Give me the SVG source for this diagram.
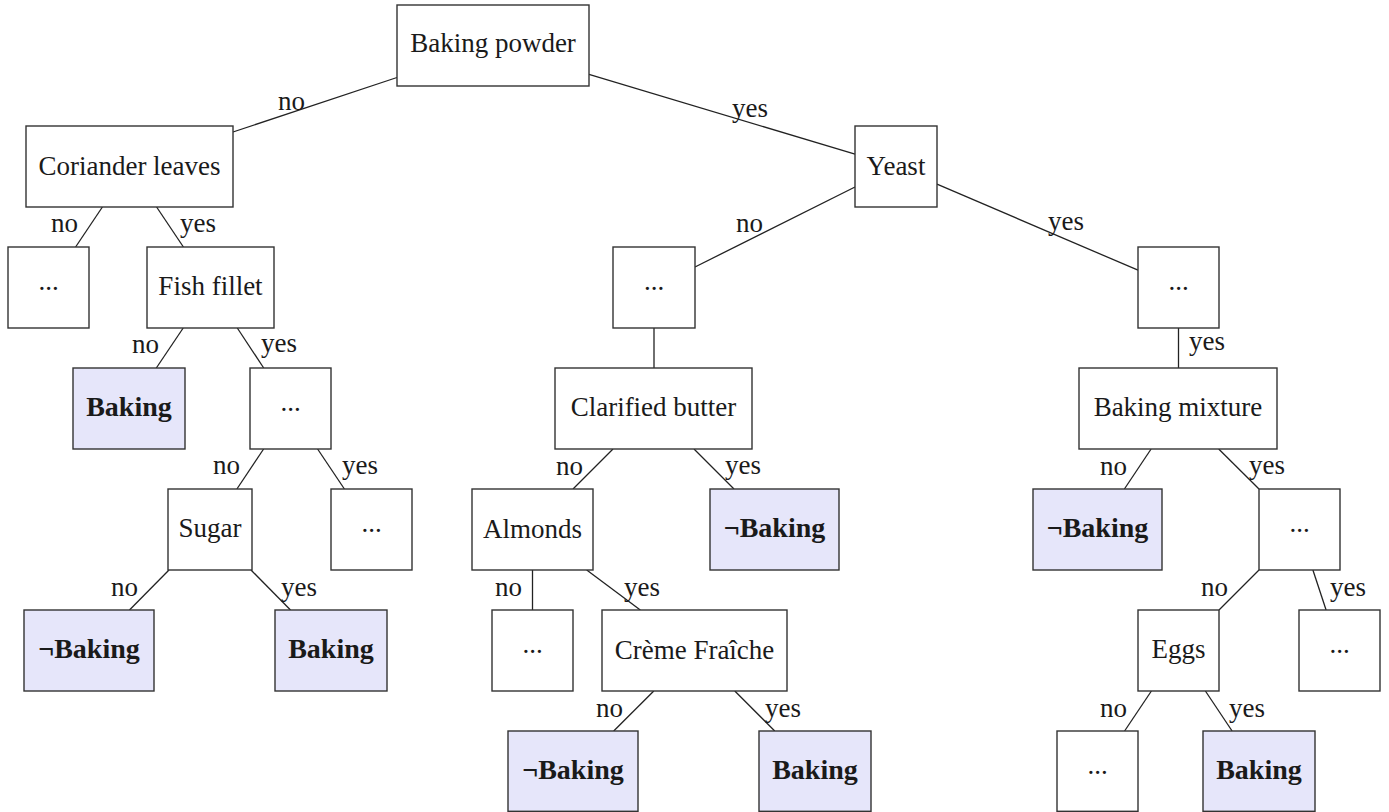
<svg xmlns="http://www.w3.org/2000/svg" width="1389" height="812" viewBox="0 0 1389 812">
<style>
  .box{fill:#ffffff;stroke:#333333;stroke-width:1.4}
  .leaf{fill:#e6e6fa;stroke:#333333;stroke-width:1.4}
  .t{font-family:"Liberation Serif","Times New Roman",serif;font-size:27px;fill:#1a1a1a;text-anchor:middle}
  .b{font-family:"Liberation Serif","Times New Roman",serif;font-size:28px;font-weight:bold;fill:#1a1a1a;text-anchor:middle}
  .no{font-family:"Liberation Serif","Times New Roman",serif;font-size:27px;fill:#1a1a1a;text-anchor:end}
  .yes{font-family:"Liberation Serif","Times New Roman",serif;font-size:27px;fill:#1a1a1a;text-anchor:start}
  .e{stroke:#222222;stroke-width:1.3;fill:none}
</style>
<rect width="1389" height="812" fill="#ffffff"/>
<g id="connectors">
  <line class="e" x1="397" y1="77.5" x2="233" y2="132"/>
  <line class="e" x1="589" y1="74.3" x2="855" y2="154.2"/>
  <line class="e" x1="102.4" y1="207" x2="75.6" y2="247"/>
  <line class="e" x1="156.6" y1="207" x2="183.4" y2="247"/>
  <line class="e" x1="855" y1="187" x2="695" y2="267"/>
  <line class="e" x1="937" y1="184.1" x2="1138" y2="270.2"/>
  <line class="e" x1="183.2" y1="328" x2="156.3" y2="368"/>
  <line class="e" x1="237.3" y1="328" x2="263.7" y2="368"/>
  <line class="e" x1="654" y1="328" x2="654" y2="368"/>
  <line class="e" x1="1178.5" y1="328" x2="1178.5" y2="368"/>
  <line class="e" x1="263.6" y1="449" x2="236.9" y2="489"/>
  <line class="e" x1="317.6" y1="449" x2="344.4" y2="489"/>
  <line class="e" x1="613" y1="449" x2="573" y2="489"/>
  <line class="e" x1="694" y1="449" x2="734" y2="489"/>
  <line class="e" x1="1151.1" y1="449" x2="1124.4" y2="489"/>
  <line class="e" x1="1218.7" y1="449" x2="1259" y2="489"/>
  <line class="e" x1="169" y1="570" x2="129.5" y2="610"/>
  <line class="e" x1="251" y1="570" x2="290.5" y2="610"/>
  <line class="e" x1="532.5" y1="570" x2="532.5" y2="610"/>
  <line class="e" x1="586.7" y1="570" x2="640.3" y2="610"/>
  <line class="e" x1="1259" y1="570" x2="1219" y2="610"/>
  <line class="e" x1="1312.9" y1="570" x2="1326.1" y2="610"/>
  <line class="e" x1="653.8" y1="691" x2="613.7" y2="731"/>
  <line class="e" x1="734.8" y1="691" x2="774.7" y2="731"/>
  <line class="e" x1="1151.4" y1="691" x2="1124.6" y2="731"/>
  <line class="e" x1="1205.4" y1="691" x2="1232.1" y2="731"/>
  <text class="no" x="305" y="110">no</text>
  <text class="yes" x="732" y="117">yes</text>
  <text class="no" x="78" y="232">no</text>
  <text class="yes" x="180" y="232">yes</text>
  <text class="no" x="763" y="232">no</text>
  <text class="yes" x="1048" y="230">yes</text>
  <text class="no" x="159" y="353">no</text>
  <text class="yes" x="261" y="352">yes</text>
  <text class="yes" x="1189" y="350">yes</text>
  <text class="no" x="240" y="474">no</text>
  <text class="yes" x="342" y="474">yes</text>
  <text class="no" x="583" y="475">no</text>
  <text class="yes" x="725" y="474">yes</text>
  <text class="no" x="1127" y="475">no</text>
  <text class="yes" x="1249" y="474">yes</text>
  <text class="no" x="138" y="596">no</text>
  <text class="yes" x="281" y="596">yes</text>
  <text class="no" x="522" y="596">no</text>
  <text class="yes" x="624" y="596">yes</text>
  <text class="no" x="1228" y="596">no</text>
  <text class="yes" x="1330" y="596">yes</text>
  <text class="no" x="623" y="717">no</text>
  <text class="yes" x="765" y="717">yes</text>
  <text class="no" x="1127" y="717">no</text>
  <text class="yes" x="1229" y="717">yes</text>
</g>
<g id="n1"><rect class="box" x="397" y="5" width="192" height="81"/><text class="t" x="493" y="52">Baking powder</text></g>
<g id="n2"><rect class="box" x="26" y="126" width="207" height="81"/><text class="t" x="129.5" y="175">Coriander leaves</text></g>
<g id="n3"><rect class="box" x="855" y="126" width="82" height="81"/><text class="t" x="896" y="175">Yeast</text></g>
<g id="n4"><rect class="box" x="8" y="247" width="81" height="81"/><text class="t" x="48.5" y="290">...</text></g>
<g id="n5"><rect class="box" x="147" y="247" width="127" height="81"/><text class="t" x="210.5" y="295">Fish fillet</text></g>
<g id="n6"><rect class="box" x="613" y="247" width="82" height="81"/><text class="t" x="654" y="290">...</text></g>
<g id="n7"><rect class="box" x="1138" y="247" width="81" height="81"/><text class="t" x="1178.5" y="290">...</text></g>
<g id="n8"><rect class="leaf" x="73" y="368" width="112" height="81"/><text class="b" x="129" y="416">Baking</text></g>
<g id="n9"><rect class="box" x="250" y="368" width="81" height="81"/><text class="t" x="290.5" y="411">...</text></g>
<g id="n10"><rect class="box" x="555" y="368" width="197" height="81"/><text class="t" x="653.5" y="416">Clarified butter</text></g>
<g id="n11"><rect class="box" x="1079" y="368" width="198" height="81"/><text class="t" x="1178" y="416">Baking mixture</text></g>
<g id="n12"><rect class="box" x="168" y="489" width="84" height="81"/><text class="t" x="210" y="537">Sugar</text></g>
<g id="n13"><rect class="box" x="331" y="489" width="81" height="81"/><text class="t" x="371.5" y="532">...</text></g>
<g id="n14"><rect class="box" x="472" y="489" width="121" height="81"/><text class="t" x="532.5" y="538">Almonds</text></g>
<g id="n15"><rect class="leaf" x="710" y="489" width="129" height="81"/><text class="b" x="774.5" y="537">¬Baking</text></g>
<g id="n16"><rect class="leaf" x="1033" y="489" width="129" height="81"/><text class="b" x="1097.5" y="537">¬Baking</text></g>
<g id="n17"><rect class="box" x="1259" y="489" width="81" height="81"/><text class="t" x="1299.5" y="532">...</text></g>
<g id="n18"><rect class="leaf" x="24" y="610" width="130" height="81"/><text class="b" x="89" y="658">¬Baking</text></g>
<g id="n19"><rect class="leaf" x="275" y="610" width="112" height="81"/><text class="b" x="331" y="658">Baking</text></g>
<g id="n20"><rect class="box" x="492" y="610" width="81" height="81"/><text class="t" x="532.5" y="653">...</text></g>
<g id="n21"><rect class="box" x="602" y="610" width="185" height="81"/><text class="t" x="694.5" y="659">Crème Fraîche</text></g>
<g id="n22"><rect class="box" x="1138" y="610" width="81" height="81"/><text class="t" x="1178.5" y="658">Eggs</text></g>
<g id="n23"><rect class="box" x="1299" y="610" width="81" height="81"/><text class="t" x="1339.5" y="653">...</text></g>
<g id="n24"><rect class="leaf" x="508" y="731" width="130" height="80.3"/><text class="b" x="573" y="779">¬Baking</text></g>
<g id="n25"><rect class="leaf" x="759" y="731" width="112" height="80.3"/><text class="b" x="815" y="779">Baking</text></g>
<g id="n26"><rect class="box" x="1057" y="731" width="81" height="80.3"/><text class="t" x="1097.5" y="774">...</text></g>
<g id="n27"><rect class="leaf" x="1203" y="731" width="112" height="80.3"/><text class="b" x="1259" y="779">Baking</text></g>
</svg>
